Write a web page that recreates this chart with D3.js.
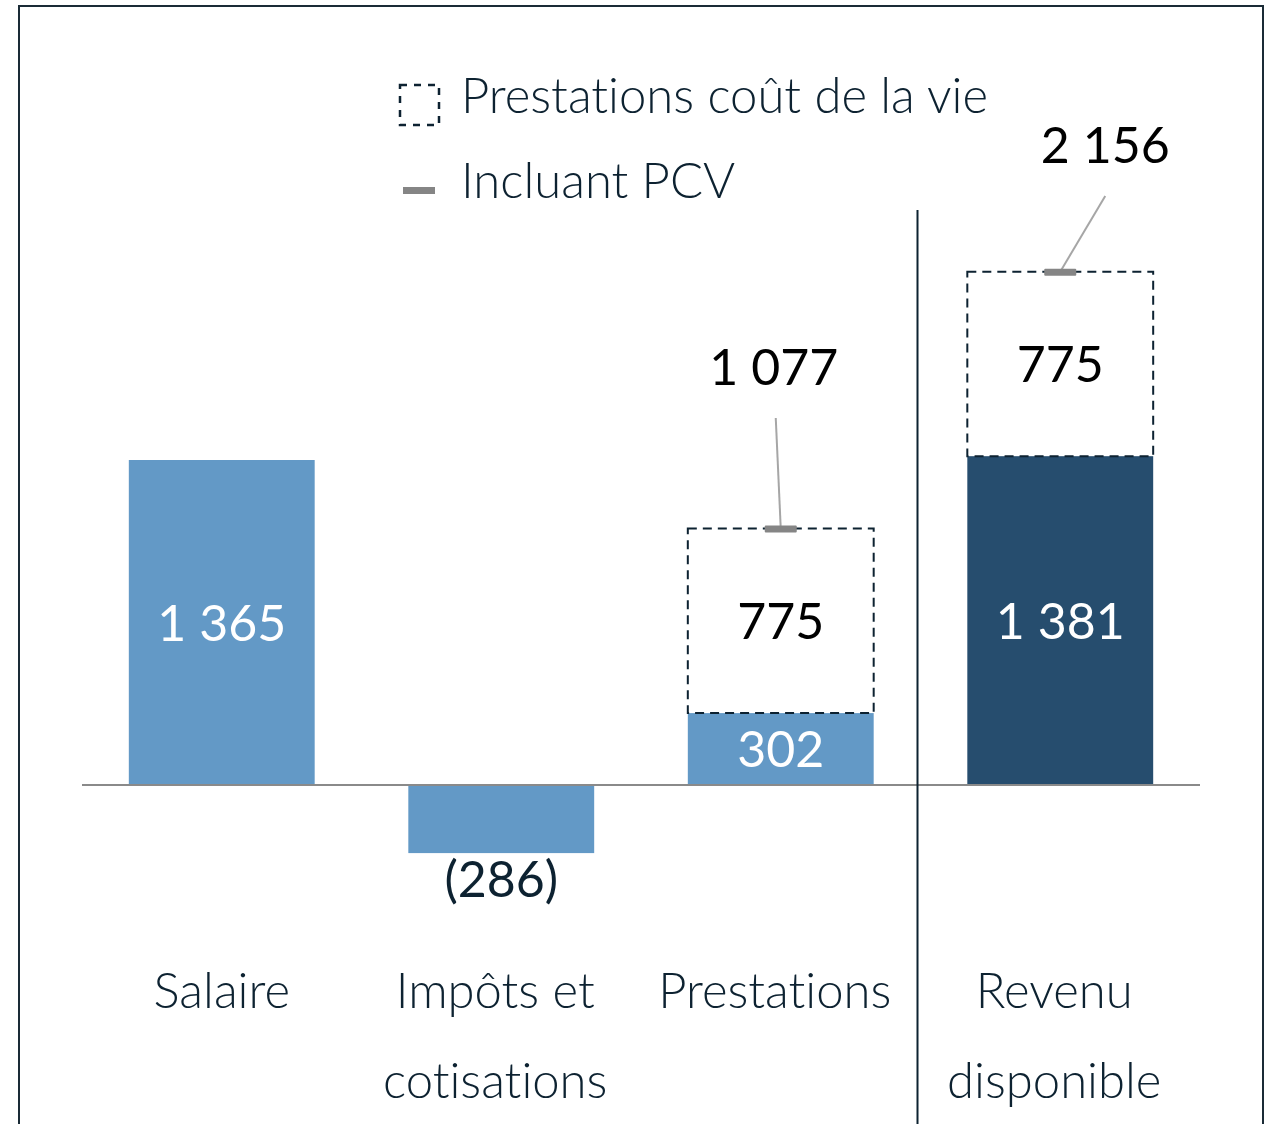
<!DOCTYPE html>
<html>
<head>
<meta charset="utf-8">
<script src="https://cdn.jsdelivr.net/npm/d3@7"></script>
<style>
  body { margin: 0; background: #fff; }
  text { font-family: Lato, "Open Sans", sans-serif; font-weight: 300; font-variant-ligatures: none; }
  text.num { font-weight: 400; }
</style>
</head>
<body>
<svg id="chart" width="1274" height="1124"></svg>
<script>
// data
const categories = ["Salaire", "Impôts et\ncotisations", "Prestations", "Revenu\ndisponible"];
const baseValues = [1365, -286, 302, 1381];
const pcvValues = [0, 0, 775, 775];
const totals = [null, null, 1077, 2156];
const legendLabels = ["Prestations coût de la vie", "Incluant PCV"];

const colLight = "#6399c6", colDark = "#264d6e", ink = "#0d2231";
const fr = d3.formatLocale({ decimal: ",", thousands: " ", grouping: [3], currency: ["", " $"] });
const fmt = fr.format(",d");

const svg = d3.select("#chart");

// outer frame
svg.append("rect")
    .attr("x", 19).attr("y", 6)
    .attr("width", 1244).attr("height", 1140)
    .attr("fill", "none")
    .attr("stroke", "#1a2b36")
    .attr("stroke-width", 2);

const x = d3.scaleBand()
    .domain(categories)
    .range([82, 1200])
    .paddingInner(0.335)
    .paddingOuter(0.1675);

const y = d3.scaleLinear()
    .domain([0, 1365])
    .range([785, 460]);

const cx = i => x(categories[i]) + x.bandwidth() / 2;

// base bars
svg.selectAll(".bar")
  .data(baseValues)
  .join("rect")
    .attr("class", "bar")
    .attr("x", (d, i) => x(categories[i]))
    .attr("width", x.bandwidth())
    .attr("y", d => y(Math.max(0, d)))
    .attr("height", d => Math.abs(y(d) - y(0)))
    .attr("fill", (d, i) => i === 3 ? colDark : colLight);

// dashed PCV boxes
const pcv = pcvValues.map((v, i) => ({ v, i, base: baseValues[i] })).filter(d => d.v > 0);
svg.selectAll(".pcv")
  .data(pcv)
  .join("rect")
    .attr("class", "pcv")
    .attr("x", d => x(categories[d.i]))
    .attr("width", x.bandwidth())
    .attr("y", d => y(d.base + d.v))
    .attr("height", d => y(d.base) - y(d.base + d.v))
    .attr("fill", "none")
    .attr("stroke", ink)
    .attr("stroke-width", 2)
    .attr("stroke-dasharray", "9,6");

// baseline
svg.append("line")
    .attr("x1", 82).attr("x2", 1200)
    .attr("y1", y(0)).attr("y2", y(0))
    .attr("stroke", "#8a8a8a").attr("stroke-width", 2);

// separator
const sepX = x(categories[3]) - x.paddingInner() * x.step() / 2 - 3;
svg.append("line")
    .attr("x1", sepX).attr("x2", sepX)
    .attr("y1", 210).attr("y2", 1124)
    .attr("stroke", ink).attr("stroke-width", 2);

// value labels
svg.selectAll(".val")
  .data(baseValues)
  .join("text")
    .attr("class", "val num")
    .attr("x", (d, i) => cx(i))
    .attr("y", d => d >= 0 ? (y(0) + y(d)) / 2 : y(d) + 26)
    .attr("dy", "0.36em")
    .attr("text-anchor", "middle")
    .attr("font-size", 50)
    .attr("fill", d => d >= 0 ? "#fff" : ink)
    .text(d => d >= 0 ? fmt(d) : "(" + fmt(-d) + ")");

svg.selectAll(".pcvval")
  .data(pcv)
  .join("text")
    .attr("class", "pcvval num")
    .attr("x", d => cx(d.i))
    .attr("y", d => (y(d.base) + y(d.base + d.v)) / 2)
    .attr("dy", "0.36em")
    .attr("text-anchor", "middle")
    .attr("font-size", 50)
    .attr("fill", "#000")
    .text(d => fmt(d.v));

// totals, leader lines, markers
const tot = totals.map((t, i) => ({ t, i })).filter(d => d.t !== null);
const labelPos = { 2: { dx: -7, y: 367, lx: -5, ly: 418 }, 3: { dx: 45, y: 145, lx: 45, ly: 196 } };

svg.selectAll(".leader")
  .data(tot)
  .join("line")
    .attr("class", "leader")
    .attr("x1", d => cx(d.i) + labelPos[d.i].lx)
    .attr("y1", d => labelPos[d.i].ly)
    .attr("x2", d => cx(d.i))
    .attr("y2", d => y(d.t))
    .attr("stroke", "#a6a6a6").attr("stroke-width", 2);

svg.selectAll(".mark")
  .data(tot)
  .join("rect")
    .attr("class", "mark")
    .attr("x", d => cx(d.i) - 16)
    .attr("y", d => y(d.t) - 3)
    .attr("width", 32).attr("height", 7)
    .attr("rx", 1)
    .attr("fill", "#858585");

svg.selectAll(".tot")
  .data(tot)
  .join("text")
    .attr("class", "tot num")
    .attr("x", d => cx(d.i) + labelPos[d.i].dx)
    .attr("y", d => labelPos[d.i].y)
    .attr("dy", "0.36em")
    .attr("text-anchor", "middle")
    .attr("font-size", 50)
    .attr("fill", "#000")
    .text(d => fmt(d.t));

// category labels
svg.selectAll(".cat")
  .data(categories)
  .join("text")
    .attr("class", "cat")
    .attr("text-anchor", "middle")
    .attr("font-size", 49)
    .attr("fill", ink)
    .each(function(d, i) {
      const lines = d.split("\n");
      d3.select(this).selectAll("tspan")
        .data(lines)
        .join("tspan")
          .attr("x", cx(i) - (i === 0 ? 0 : 6))
          .attr("y", (l, j) => 990 + j * 90)
          .attr("dy", "0.36em")
          .text(l => l);
    });

// legend
const lg = svg.append("g");
lg.append("rect")
    .attr("x", 400).attr("y", 85)
    .attr("width", 39).attr("height", 40)
    .attr("fill", "none")
    .attr("stroke", ink).attr("stroke-width", 2.5)
    .attr("stroke-dasharray", "7,7");
lg.append("rect")
    .attr("x", 403).attr("y", 187)
    .attr("width", 32).attr("height", 7)
    .attr("fill", "#858585");
lg.selectAll("text")
  .data(legendLabels)
  .join("text")
    .attr("x", 461)
    .attr("y", (d, i) => 95 + i * 85)
    .attr("dy", "0.36em")
    .attr("font-size", 49)
    .attr("fill", ink)
    .text(d => d);
</script>
</body>
</html>
